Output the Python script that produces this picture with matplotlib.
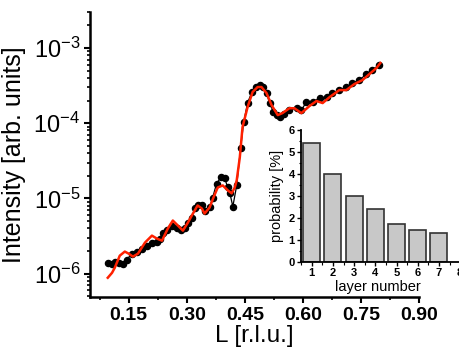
import matplotlib
matplotlib.use("Agg")
import matplotlib.pyplot as plt
from matplotlib.ticker import MultipleLocator, LogLocator, NullFormatter, FixedLocator

plt.rcParams['font.family'] = ['Liberation Sans', 'DejaVu Sans']
plt.rcParams['mathtext.fontset'] = 'custom'
plt.rcParams['mathtext.rm'] = 'Liberation Sans'
plt.rcParams['mathtext.it'] = 'Liberation Sans'
plt.rcParams['mathtext.bf'] = 'Liberation Sans:bold'

# measured data
data_L = [0.096, 0.107, 0.114, 0.125, 0.135, 0.145, 0.158, 0.171, 0.184, 0.197,
          0.210, 0.223, 0.230, 0.238, 0.248, 0.261, 0.274, 0.285, 0.295, 0.303,
          0.313, 0.321, 0.328, 0.339, 0.346, 0.359, 0.367, 0.377, 0.388, 0.398,
          0.406, 0.411, 0.419, 0.429, 0.439, 0.447, 0.457, 0.468, 0.478, 0.488,
          0.496, 0.506, 0.514, 0.524, 0.532, 0.540, 0.550, 0.565, 0.584, 0.596,
          0.609, 0.625, 0.643, 0.661, 0.676, 0.694, 0.712, 0.728, 0.746, 0.764,
          0.779, 0.797]
data_I = [1.40e-6, 1.36e-6, 1.45e-6, 1.40e-6, 1.36e-6, 1.54e-6, 1.85e-6, 1.97e-6, 2.16e-6, 2.36e-6,
          2.59e-6, 2.67e-6, 2.93e-6, 3.52e-6, 3.86e-6, 4.37e-6, 4.10e-6, 3.86e-6, 4.10e-6, 4.79e-6,
          5.58e-6, 7.36e-6, 8.07e-6, 8.07e-6, 6.92e-6, 7.59e-6, 1.03e-5, 1.58e-5, 1.91e-5, 1.85e-5,
          1.40e-5, 1.20e-5, 7.82e-6, 1.49e-5, 4.64e-5, 1.03e-4, 1.85e-4, 2.59e-4, 3.02e-4, 3.21e-4,
          3.02e-4, 2.51e-4, 1.85e-4, 1.40e-4, 1.28e-4, 1.20e-4, 1.32e-4, 1.49e-4, 1.58e-4, 1.49e-4,
          1.91e-4, 1.91e-4, 2.16e-4, 2.22e-4, 2.51e-4, 2.75e-4, 3.02e-4, 3.41e-4, 3.74e-4, 4.50e-4,
          5.09e-4, 5.93e-4]

# fit curve
fit_L = [0.096, 0.107, 0.114, 0.127, 0.140, 0.150, 0.161, 0.174, 0.192, 0.210,
         0.223, 0.236, 0.251, 0.264, 0.277, 0.290, 0.303, 0.313, 0.328, 0.339,
         0.346, 0.359, 0.370, 0.380, 0.393, 0.406, 0.416, 0.424, 0.429, 0.437,
         0.444, 0.457, 0.470, 0.483, 0.493, 0.506, 0.519, 0.535, 0.547, 0.565,
         0.578, 0.596, 0.617, 0.635, 0.651, 0.669, 0.694, 0.712, 0.733, 0.754,
         0.772, 0.790, 0.800]
fit_I = [8.85e-7, 1.03e-6, 1.20e-6, 1.74e-6, 1.97e-6, 1.85e-6, 1.69e-6, 1.85e-6, 2.59e-6, 3.21e-6,
         2.93e-6, 2.75e-6, 3.98e-6, 5.09e-6, 4.37e-6, 3.74e-6, 4.79e-6, 5.93e-6, 8.07e-6, 7.36e-6,
         6.31e-6, 7.59e-6, 1.06e-5, 1.40e-5, 1.49e-5, 1.28e-5, 1.17e-5, 1.40e-5, 1.74e-5, 3.52e-5,
         8.85e-5, 1.63e-4, 2.59e-4, 3.02e-4, 3.02e-4, 2.51e-4, 1.74e-4, 1.28e-4, 1.36e-4, 1.58e-4,
         1.58e-4, 1.36e-4, 1.69e-4, 1.97e-4, 1.85e-4, 2.22e-4, 2.75e-4, 2.75e-4, 3.31e-4, 3.74e-4,
         4.50e-4, 5.41e-4, 6.31e-4]

# inset histogram
layers = [1, 2, 3, 4, 5, 6, 7]
probability = [5.4, 4.0, 3.0, 2.4, 1.7, 1.45, 1.3]

x_ticks = [0.15, 0.30, 0.45, 0.60, 0.75, 0.90]
x_tick_labels = ['0.15', '0.30', '0.45', '0.60', '0.75', '0.90']

fig = plt.figure(figsize=(4.59, 3.52), dpi=100)
ax = fig.add_axes([0.196, 0.156, 0.717, 0.810])

ax.plot(data_L, data_I, color='black', lw=0.9, marker='o', ms=4.4, mfc='black', mec='black', zorder=2)
ax.plot(fit_L, fit_I, color='#ff2000', lw=1.8, zorder=3)

ax.set_yscale('log')
ax.set_xlim(0.05, 0.90)
ax.set_ylim(4.9e-7, 3.0e-3)
ax.xaxis.set_major_locator(FixedLocator(x_ticks))
ax.set_xticklabels(x_tick_labels, fontsize=14, fontweight='bold')
ax.xaxis.set_minor_locator(MultipleLocator(0.075))
ax.yaxis.set_minor_locator(LogLocator(base=10, subs=range(2, 10), numticks=20))
ax.yaxis.set_minor_formatter(NullFormatter())
ax.set_yticks([1e-6, 1e-5, 1e-4, 1e-3])
ax.set_yticklabels([r'$10^{-6}$', r'$10^{-5}$', r'$10^{-4}$', r'$10^{-3}$'], fontsize=17)

for s in ['top', 'right']:
    ax.spines[s].set_visible(False)
for s in ['left', 'bottom']:
    ax.spines[s].set_linewidth(1.8)
ax.tick_params(which='major', direction='out', length=4, width=1.5, pad=3)
ax.tick_params(which='minor', direction='out', length=2.5, width=1.2)

ax.set_xlabel('L [r.l.u.]', fontsize=17.5, labelpad=1)
ax.set_ylabel('Intensity [arb. units]', fontsize=18)
ax.yaxis.set_label_coords(-0.195, 0.5)

# inset
ins = fig.add_axes([0.656, 0.256, 0.3695, 0.375])
ins.bar(layers, probability, width=0.8, color='#c8c8c8', edgecolor='#333333', linewidth=1.2)
ins.set_xlim(0.5, 8.5)
ins.set_ylim(0, 6)
ins.xaxis.set_major_locator(MultipleLocator(1))
ins.xaxis.set_minor_locator(MultipleLocator(0.5))
ins.yaxis.set_major_locator(MultipleLocator(1))
ins.yaxis.set_minor_locator(MultipleLocator(0.5))
for lab in ins.get_xticklabels() + ins.get_yticklabels():
    lab.set_fontweight('bold')
    lab.set_fontsize(8)
for s in ['top', 'right']:
    ins.spines[s].set_visible(False)
for s in ['left', 'bottom']:
    ins.spines[s].set_linewidth(1.3)
ins.tick_params(which='major', direction='out', length=3, width=1.0, pad=1.5)
ins.tick_params(which='minor', direction='out', length=1.8, width=0.8)
ins.set_xlabel('layer number', fontsize=10.5)
ins.xaxis.set_label_coords(0.453, -0.135)
ins.set_ylabel('probability [%]', fontsize=10.5, labelpad=3)
ins.patch.set_alpha(0)

fig.savefig('out.png', dpi=100)
